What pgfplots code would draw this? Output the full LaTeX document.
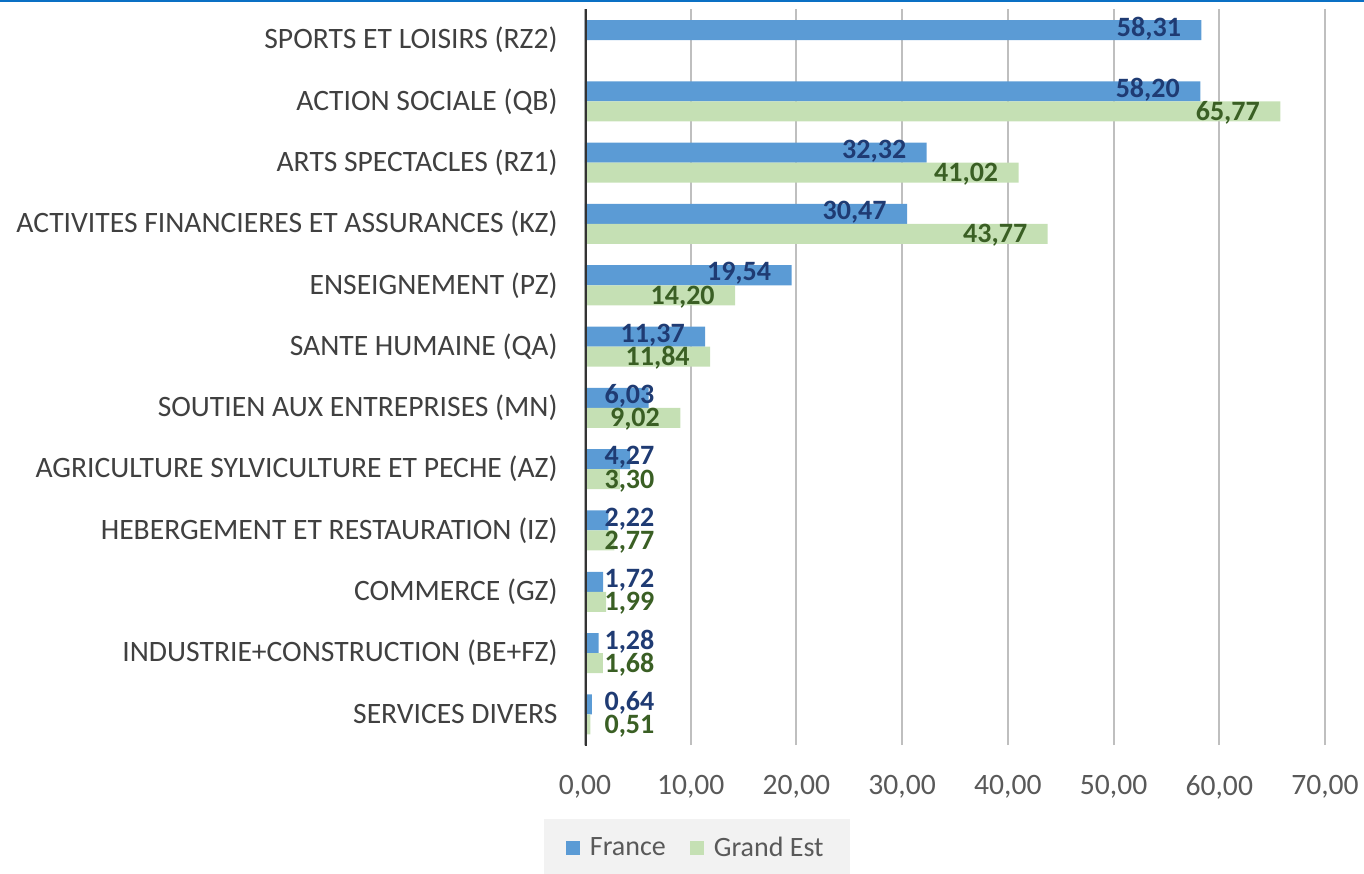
\documentclass[border=0pt]{standalone}
\usepackage{fontspec}
\setmainfont{Carlito}
\usepackage{pgfplots}
\pgfplotsset{compat=1.18}
\usepackage{pgfplotstable}

\definecolor{frbar}{HTML}{5B9BD5}
\definecolor{gebar}{HTML}{C5E0B4}
\definecolor{frtext}{HTML}{1F3B73}
\definecolor{getext}{HTML}{3A5F24}
\definecolor{labgray}{HTML}{404040}
\definecolor{tickgray}{HTML}{595959}
\definecolor{legfill}{HTML}{F2F2F2}
\definecolor{topblue}{HTML}{0A70C4}

% idx 0 = bottom category
\pgfplotstableread{
idx fr
0  0.64
1  1.28
2  1.72
3  2.22
4  4.27
5  6.03
6  11.37
7  19.54
8  30.47
9  32.32
10 58.20
11 58.31
}\france

\pgfplotstableread{
idx ge
0  0.51
1  1.68
2  1.99
3  2.77
4  3.30
5  9.02
6  11.84
7  14.20
8  43.77
9  41.02
10 65.77
}\grandest

\begin{document}
\begin{tikzpicture}
\path[use as bounding box] (-292.5pt,-64pt) rectangle (389.5pt,372.5pt);
\fill[topblue] (-292.5pt,371.5pt) rectangle (389.5pt,372.5pt);
\begin{axis}[
  scale only axis,
  width=370pt, height=367.8pt,
  xbar, bar width=10pt,
  xmin=0, xmax=70,
  ymin=-0.5, ymax=11.5,
  xtick={0,10,...,70},
  ytick={0,...,11},
  yticklabels={SERVICES DIVERS, INDUSTRIE+CONSTRUCTION (BE+FZ), COMMERCE (GZ),
    HEBERGEMENT ET RESTAURATION (IZ), AGRICULTURE SYLVICULTURE ET PECHE (AZ),
    SOUTIEN AUX ENTREPRISES (MN), SANTE HUMAINE (QA), ENSEIGNEMENT (PZ),
    ACTIVITES FINANCIERES ET ASSURANCES (KZ), ARTS SPECTACLES (RZ1),
    ACTION SOCIALE (QB), SPORTS ET LOISIRS (RZ2)},
  axis line style={draw=none},
  major tick length=0pt,
  xmajorgrids,
  grid style={draw=black!25, line width=1pt},
  /pgf/number format/assume math mode=true,
  /pgf/number format/.cd, use comma, fixed, fixed zerofill, precision=2, 1000 sep={},
  /pgfplots/.cd,
  yticklabel style={anchor=east, inner sep=0pt, xshift=-13.5pt, text=labgray,
    font=\fontsize{14.8}{16}\selectfont},
  xticklabel style={anchor=north, inner sep=0pt, yshift=-15pt, text=tickgray,
    font=\fontsize{14.8}{16}\selectfont},
  legend style={at={(0.151,-0.140)}, anchor=center, fill=legfill, draw=none,
    font=\fontsize{14}{16}\selectfont, text=tickgray,
    inner xsep=11pt, inner ysep=7pt,
    /tikz/every odd column/.append style={column sep=3pt},
    /tikz/every even column/.append style={column sep=10pt}},
  legend columns=2,
  legend image code/.code={\fill[#1] (0pt,-3.5pt) rectangle (7pt,3.5pt);},
  nodes near coords,
  visualization depends on={x \as \rawx},
]
\addplot[fill=frbar, draw=none, bar shift=5pt,
  nodes near coords style={anchor=east, text=frtext, inner sep=0pt,
    font=\fontsize{14}{16}\selectfont\bfseries, yshift=0.8pt,
    xshift={(max(\rawx-1.9,6.6)-\rawx)*5.2857pt}}]
  table[x=fr, y=idx] {\france};
\addlegendentry{France}
\addplot[fill=gebar, draw=none, bar shift=-5pt,
  nodes near coords style={anchor=east, text=getext, inner sep=0pt,
    font=\fontsize{14}{16}\selectfont\bfseries, yshift=-0.8pt,
    xshift={(max(\rawx-1.9,6.6)-\rawx)*5.2857pt}}]
  table[x=ge, y=idx] {\grandest};
\addlegendentry{Grand Est}
\draw[black!80, line width=1.6pt] (axis cs:0,-0.56) -- (axis cs:0,11.5);
\end{axis}
\end{tikzpicture}
\end{document}
